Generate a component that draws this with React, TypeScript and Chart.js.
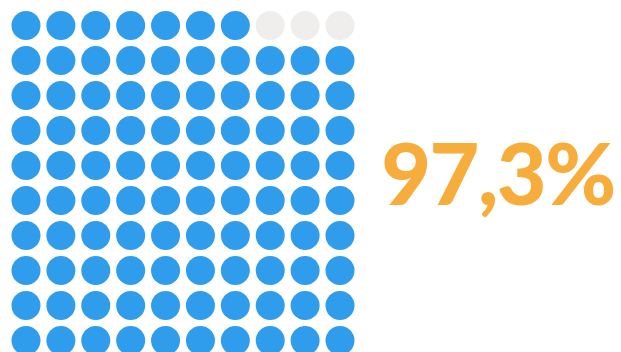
import React, { useEffect, useRef } from "react";
import { Chart, registerables } from "chart.js";

Chart.register(...registerables);

const percentValue = [97.3];
const percentLabel = ["97,3%"];
const gridColumns = [0, 1, 2, 3, 4, 5, 6, 7, 8, 9];
const gridRows = [0, 1, 2, 3, 4, 5, 6, 7, 8, 9];

const FILLED = "#2F9CEC";
const EMPTY = "#F0EDED";
const TEXT = "#F6AD3C";

export default function App() {
  const ref = useRef<HTMLCanvasElement>(null);
  useEffect(() => {
    document.body.style.margin = "0";
    const filledCount = Math.floor(percentValue[0]);
    const filled: { x: number; y: number }[] = [];
    const empty: { x: number; y: number }[] = [];
    let i = 0;
    for (let r = gridRows.length - 1; r >= 0; r--) {
      for (const c of gridColumns) {
        (i < filledCount ? filled : empty).push({ x: c, y: gridRows[r] });
        i++;
      }
    }
    const chart = new Chart(ref.current!, {
      type: "scatter",
      data: {
        datasets: [
          { data: filled, backgroundColor: FILLED, borderWidth: 0, pointRadius: 14.5, pointHoverRadius: 14.5, clip: false } as any,
          { data: empty, backgroundColor: EMPTY, borderWidth: 0, pointRadius: 14.5, pointHoverRadius: 14.5, clip: false } as any,
        ],
      },
      options: {
        animation: false,
        responsive: false,
        events: [],
        layout: { autoPadding: false, padding: { left: 0, top: 0, bottom: 0, right: 255 } } as any,
        plugins: { legend: { display: false }, tooltip: { enabled: false } },
        scales: {
          x: { type: "linear", display: false, min: -0.745, max: 9.745 },
          y: { type: "linear", display: false, reverse: true, min: -0.729, max: 9.329 },
        },
      },
    });
    return () => chart.destroy();
  }, []);
  return (
    <div style={{ position: "fixed", left: 0, top: 0, width: 621, height: 352, overflow: "hidden", background: "#fff" }}>
      <canvas ref={ref} width={621} height={352} style={{ position: "absolute", left: 0, top: 0 }} />
      <div
        style={{
          position: "absolute",
          left: 373,
          width: 250,
          top: 122,
          height: 100,
          lineHeight: "100px",
          textAlign: "center",
          fontFamily: "Lato, sans-serif",
          fontWeight: 900,
          fontSize: 86,
          letterSpacing: "-1.5px",
          color: TEXT,
          whiteSpace: "nowrap",
        }}
      >
        {percentLabel[0]}
      </div>
    </div>
  );
}
